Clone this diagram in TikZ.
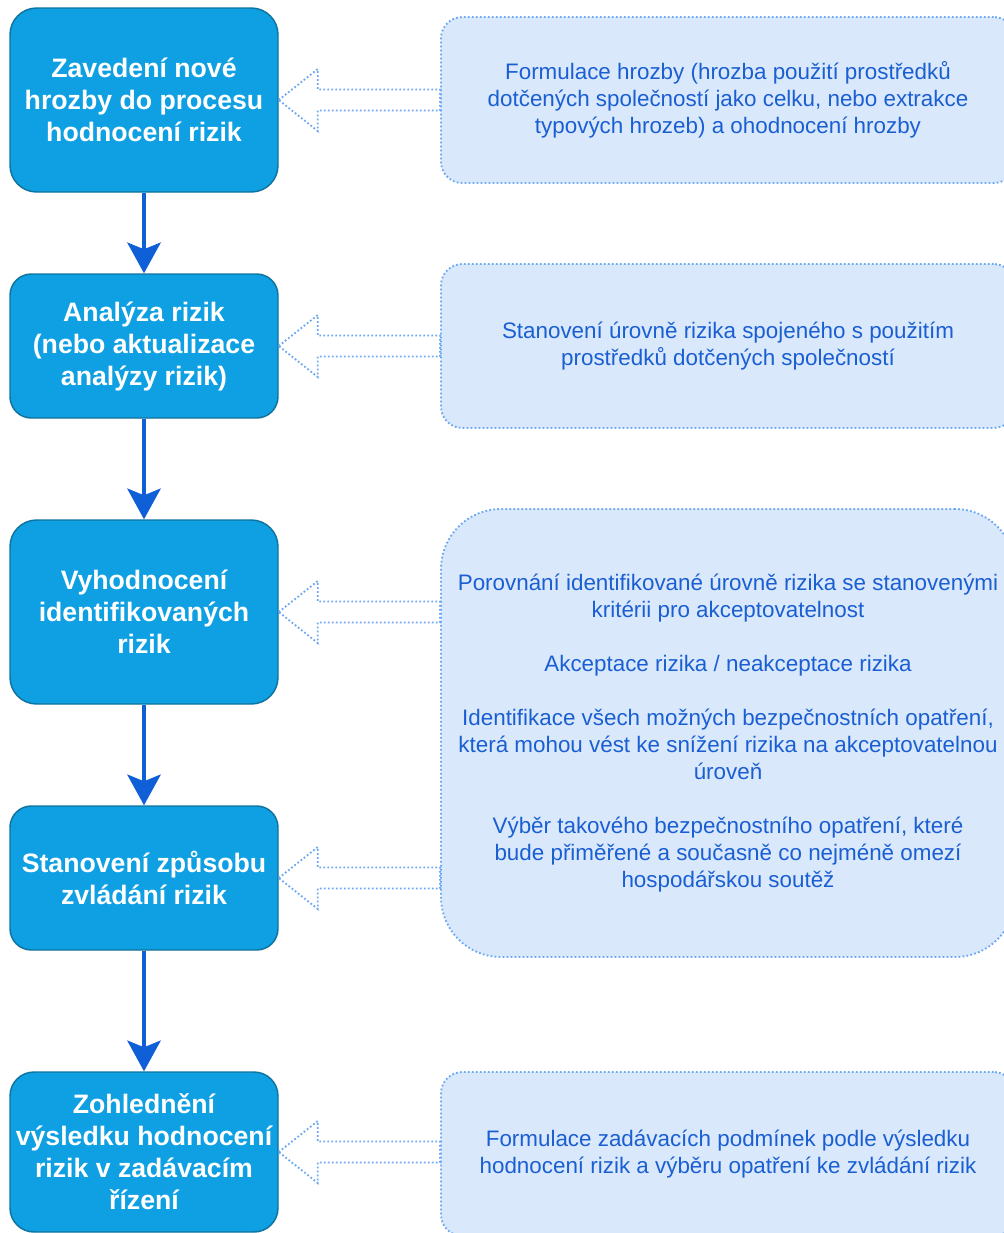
\documentclass[tikz,border=0pt]{standalone}
\usepackage{fontspec}
\setmainfont{Liberation Sans}
\usetikzlibrary{calc,arrows.meta}
\definecolor{lfill}{HTML}{0EA0E2}
\definecolor{ldraw}{HTML}{10739E}
\definecolor{rfill}{HTML}{DAE8FC}
\definecolor{rdraw}{HTML}{6AA8F2}
\definecolor{rtext}{HTML}{1A5FD2}
\definecolor{darr}{HTML}{0F5FD6}
\tikzset{
  stepbox/.style={draw=ldraw, line width=1.1pt, fill=lfill, text=white,
    font=\fontsize{20pt}{24pt}\selectfont\bfseries, align=center,
    minimum width=201pt, inner sep=0pt},
  infobox/.style={draw=rdraw, line width=1.4pt, dash pattern=on 1.3pt off 1.7pt,
    fill=rfill, text=rtext, font=\fontsize{16.8pt}{20.25pt}\selectfont,
    align=center, minimum width=430.5pt, inner sep=0pt},
  hollow/.style={draw=rdraw, line width=1.4pt, dash pattern=on 1.3pt off 1.7pt, line join=miter},
  down/.style={draw=darr, line width=3pt, -{Stealth[length=23pt,width=25pt,inset=5pt]}},
}
\newcommand\hollowarrow[2]{%
  \draw[hollow] (#1.east) -- ++(39,-31) -- ++(0,20.5)
    -- ($(#2.west |- #1.east)+(0,-10.5)$) -- ($(#2.west |- #1.east)+(0,10.5)$)
    -- ($(#1.east)+(39,10.5)$) -- ++(0,20.5) -- cycle;}
\begin{document}
\begin{tikzpicture}[x=0.75pt,y=-0.75pt]
\useasboundingbox (0,0) rectangle (1004,1233);
\clip (0,0) rectangle (1004,1233);
% left steps
\node[stepbox, minimum height=138pt, rounded corners=20pt] (L1) at (144,100)
  {Zavedení nové\\hrozby do procesu\\hodnocení rizik};
\node[stepbox, minimum height=108pt, rounded corners=16pt] (L2) at (144,346)
  {Analýza rizik\\(nebo aktualizace\\analýzy rizik)};
\node[stepbox, minimum height=138pt, rounded corners=20pt] (L3) at (144,612)
  {Vyhodnocení\\identifikovaných\\rizik};
\node[stepbox, minimum height=108pt, rounded corners=16pt] (L4) at (144,878)
  {Stanovení způsobu\\zvládání rizik};
\node[stepbox, minimum height=120pt, rounded corners=18pt] (L5) at (144,1152)
  {Zohlednění\\výsledku hodnocení\\rizik v zadávacím\\řízení};
% right info boxes
\node[infobox, minimum height=124.5pt, rounded corners=16pt] (R1) at (728,100)
  {Formulace hrozby (hrozba použití prostředků\\dotčených společností jako celku, nebo extrakce\\typových hrozeb) a ohodnocení hrozby};
\node[infobox, minimum height=123pt, rounded corners=16pt] (R2) at (728,346)
  {Stanovení úrovně rizika spojeného s použitím\\prostředků dotčených společností};
\node[infobox, minimum height=336pt, rounded corners=45pt] (R3) at (728,733)
  {Porovnání identifikované úrovně rizika se stanovenými\\kritérii pro akceptovatelnost\\[20.25pt]
   Akceptace rizika / neakceptace rizika\\[20.25pt]
   Identifikace všech možných bezpečnostních opatření,\\která mohou vést ke snížení rizika na akceptovatelnou\\úroveň\\[20.25pt]
   Výběr takového bezpečnostního opatření, které\\bude přiměřené a současně co nejméně omezí\\hospodářskou soutěž};
\node[infobox, minimum height=123pt, rounded corners=16pt] (R4) at (728,1154)
  {Formulace zadávacích podmínek podle výsledku\\hodnocení rizik a výběru opatření ke zvládání rizik};
% down arrows
\draw[down] (L1.south) -- (L2.north);
\draw[down] (L2.south) -- (L3.north);
\draw[down] (L3.south) -- (L4.north);
\draw[down] (L4.south) -- (L5.north);
% hollow arrows
\hollowarrow{L1}{R1}
\hollowarrow{L2}{R2}
\hollowarrow{L3}{R3}
\hollowarrow{L4}{R3}
\hollowarrow{L5}{R4}
\end{tikzpicture}
\end{document}
